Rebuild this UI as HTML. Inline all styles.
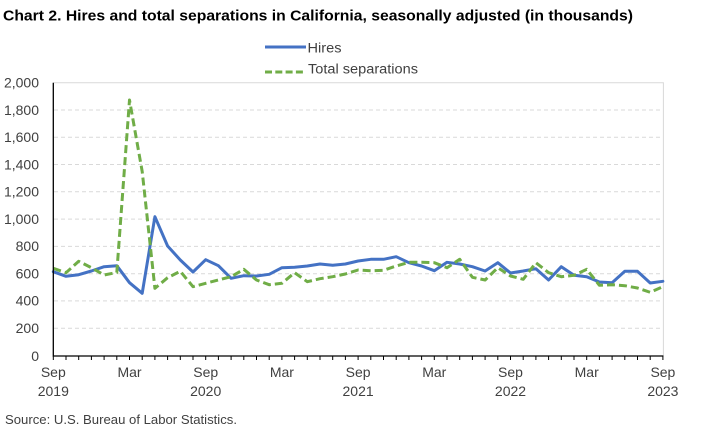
<!DOCTYPE html>
<html>
<head>
<meta charset="utf-8">
<style>
html,body{margin:0;padding:0;background:#fff;}
svg{display:block;}
text{font-family:"Liberation Sans",sans-serif;}
</style>
</head>
<body>
<svg width="703" height="432" viewBox="0 0 703 432" xmlns="http://www.w3.org/2000/svg">
<rect x="0" y="0" width="703" height="432" fill="#fff"/>
<text x="3" y="20.5" font-size="14.5" font-weight="bold" fill="#000" textLength="630" lengthAdjust="spacingAndGlyphs">Chart 2. Hires and total separations in California, seasonally adjusted (in thousands)</text>
<line x1="265" y1="47" x2="306" y2="47" stroke="#4472C4" stroke-width="3"/>
<text x="307.5" y="52.5" font-size="13.5" fill="#404040" textLength="34" lengthAdjust="spacingAndGlyphs">Hires</text>
<line x1="265" y1="72" x2="306" y2="72" stroke="#70AD47" stroke-width="3" stroke-dasharray="7 3.3"/>
<text x="308" y="73.5" font-size="13.5" fill="#404040" textLength="110" lengthAdjust="spacingAndGlyphs">Total separations</text>
<path d="M54 328.2H663M54 300.9H663M54 273.7H663M54 246.4H663M54 219.1H663M54 191.8H663M54 164.5H663M54 137.3H663M54 110H663" stroke="#D9D9D9" stroke-width="1" stroke-dasharray="4 3" fill="none"/>
<path d="M53.3 82.7H663.4V356" stroke="#D9D9D9" stroke-width="1" fill="none"/>
<g font-size="14" fill="#404040" text-anchor="end">
<text x="39" y="360.8">0</text>
<text x="39" y="333">200</text>
<text x="39" y="305.7">400</text>
<text x="39" y="278.5">600</text>
<text x="39" y="251.2">800</text>
<text x="39" y="223.9" textLength="35" lengthAdjust="spacingAndGlyphs">1,000</text>
<text x="39" y="196.6" textLength="35" lengthAdjust="spacingAndGlyphs">1,200</text>
<text x="39" y="169.3" textLength="35" lengthAdjust="spacingAndGlyphs">1,400</text>
<text x="39" y="142.1" textLength="35" lengthAdjust="spacingAndGlyphs">1,600</text>
<text x="39" y="114.8" textLength="35" lengthAdjust="spacingAndGlyphs">1,800</text>
<text x="39" y="87.5" textLength="35" lengthAdjust="spacingAndGlyphs">2,000</text>
</g>
<polyline fill="none" stroke="#4472C4" stroke-width="3" stroke-linejoin="round" stroke-linecap="round" points="53.3,271.7 66,276.3 78.7,274.7 91.4,271 104.1,266.7 116.8,265.7 129.5,282.7 142.2,293.3 154.9,216.7 167.6,246 180.3,260 193,272 205.7,259.7 218.4,265.7 231.1,278.3 243.8,275.7 256.5,276 269.2,274.3 281.9,267.7 294.6,267.3 307.3,266 320,264 332.7,265.3 345.4,264 358.1,261 370.8,259.3 383.5,259.3 396.2,256.7 408.9,262.7 421.6,266 434.3,270.7 447,262.3 459.7,264 472.4,266.7 485.1,271 497.8,262.7 510.5,273 523.2,271 535.9,268.7 548.6,280 561.3,266.7 574,275.3 586.7,276.7 599.4,282 612.1,282.7 624.8,271.3 637.5,271.3 650.2,283 662.9,281.3"/>
<polyline fill="none" stroke="#70AD47" stroke-width="3" stroke-linejoin="round" stroke-dasharray="8 4" points="53.3,268.3 66,272.7 78.7,261.3 91.4,267.7 104.1,275 116.8,272.5 129.5,100 142.2,171.5 154.9,288.3 167.6,277.7 180.3,271.3 193,286.7 205.7,283.3 218.4,280 231.1,276.7 243.8,269.3 256.5,280 269.2,284.7 281.9,283.3 294.6,272.7 307.3,281.7 320,278.7 332.7,276.7 345.4,274 358.1,270 370.8,270.7 383.5,270.3 396.2,266 408.9,262.3 421.6,262.3 434.3,262.7 447,267.7 459.7,259.3 472.4,277.3 485.1,280 497.8,267.7 510.5,276 523.2,279.3 535.9,262.7 548.6,272.7 561.3,276.7 574,275.3 586.7,269.3 599.4,285.3 612.1,284.7 624.8,285.7 637.5,288 650.2,292.3 662.9,286.7"/>
<path d="M53.3 82.7V356.5M52.7 356H663.4" stroke="#000" stroke-width="1.3" fill="none"/>
<path d="M53.3 356v4M66 356v4M78.7 356v4M91.4 356v4M104.1 356v4M116.8 356v4M129.5 356v4M142.2 356v4M154.9 356v4M167.6 356v4M180.3 356v4M193 356v4M205.7 356v4M218.4 356v4M231.1 356v4M243.8 356v4M256.5 356v4M269.2 356v4M281.9 356v4M294.6 356v4M307.3 356v4M320 356v4M332.7 356v4M345.4 356v4M358.1 356v4M370.8 356v4M383.5 356v4M396.2 356v4M408.9 356v4M421.6 356v4M434.3 356v4M447 356v4M459.7 356v4M472.4 356v4M485.1 356v4M497.8 356v4M510.5 356v4M523.2 356v4M535.9 356v4M548.6 356v4M561.3 356v4M574 356v4M586.7 356v4M599.4 356v4M612.1 356v4M624.8 356v4M637.5 356v4M650.2 356v4M662.9 356v4" stroke="#000" stroke-width="1" fill="none"/>
<g font-size="14" fill="#404040" text-anchor="middle">
<text x="53.3" y="377">Sep</text>
<text x="129.5" y="377">Mar</text>
<text x="205.7" y="377">Sep</text>
<text x="281.9" y="377">Mar</text>
<text x="358.1" y="377">Sep</text>
<text x="434.3" y="377">Mar</text>
<text x="510.5" y="377">Sep</text>
<text x="586.7" y="377">Mar</text>
<text x="662.9" y="377">Sep</text>
<text x="53.3" y="396">2019</text>
<text x="205.7" y="396">2020</text>
<text x="358.1" y="396">2021</text>
<text x="510.5" y="396">2022</text>
<text x="662.9" y="396">2023</text>
</g>
<text x="5" y="424" font-size="12.5" fill="#404040" textLength="232" lengthAdjust="spacingAndGlyphs">Source: U.S. Bureau of Labor Statistics.</text>
</svg>
</body>
</html>
